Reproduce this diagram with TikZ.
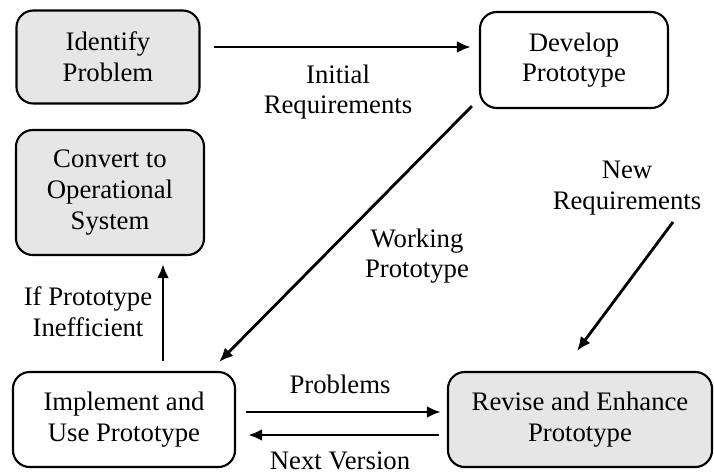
\documentclass[tikz,border=0pt]{standalone}
\usepackage{fontspec}
\setmainfont{Liberation Serif}
\usetikzlibrary{arrows.meta,calc}

\begin{document}
\begin{tikzpicture}[x=0.025cm,y=-0.025cm,>={Latex[length=10pt,width=8.5pt]},
  font=\fontsize{19}{21.8}\selectfont,line width=1.5pt]
\definecolor{boxfill}{RGB}{230,230,230}
\tikzset{stage/.style={draw,rounded corners=0.42cm,align=center,inner sep=2pt},
  shaded/.style={stage,fill=boxfill},
  flow/.style={->,line width=2pt}}

\useasboundingbox (0,0) rectangle (714,474);

% Stages of the cycle.
\node[shaded,minimum width=4.575cm,minimum height=2.325cm] (identify) at (108,57) {Identify\\Problem};
\node[stage,minimum width=4.7cm,minimum height=2.4cm] (develop) at (574,60) {Develop\\Prototype};
\node[shaded,minimum width=4.7cm,minimum height=3.125cm] (convert) at (110,192.5) {Convert to\\Operational\\System};
\node[stage,minimum width=5.55cm,minimum height=2.375cm] (implement) at (124,419.5) {Implement and\\Use Prototype};
\node[shaded,minimum width=6.6cm,minimum height=2.375cm] (revise) at (580,419.5) {Revise and Enhance\\Prototype};

% Labels on the arrows.
\node[align=center] (initreq) at (338,92) {Initial\\Requirements};
\node[align=center] (workproto) at (417,256) {Working\\Prototype};
\node[align=center] (newreq) at (627,188) {New\\Requirements};
\node[align=center] (ifineff) at (88,312) {If Prototype\\Inefficient};
\node (problems) at (340,384) {Problems};
\node (nextver) at (340,461) {Next Version};

% Arrows between the stages.
\draw[flow] ($(identify.east)+(13,-10)$) -- ($(develop.west)+(-8,-13)$);
\draw[flow] ($(develop.south west)+(-7,-3)$) -- ($(implement.north east)+(-17,-9)$);
\draw[flow] ($(newreq.center)+(46,34)$) -- ($(revise.north)+(-3,-20)$);
\draw[flow] ($(implement.east)+(10,-7.5)$) -- ($(revise.west)+(-6,-7.5)$);
\draw[flow] ($(revise.west)+(-8,15.5)$) -- ($(implement.east)+(12,15.5)$);
\draw[flow] ($(implement.north)+(39,-10)$) -- ($(convert.south)+(53,8)$);
\end{tikzpicture}
\end{document}
